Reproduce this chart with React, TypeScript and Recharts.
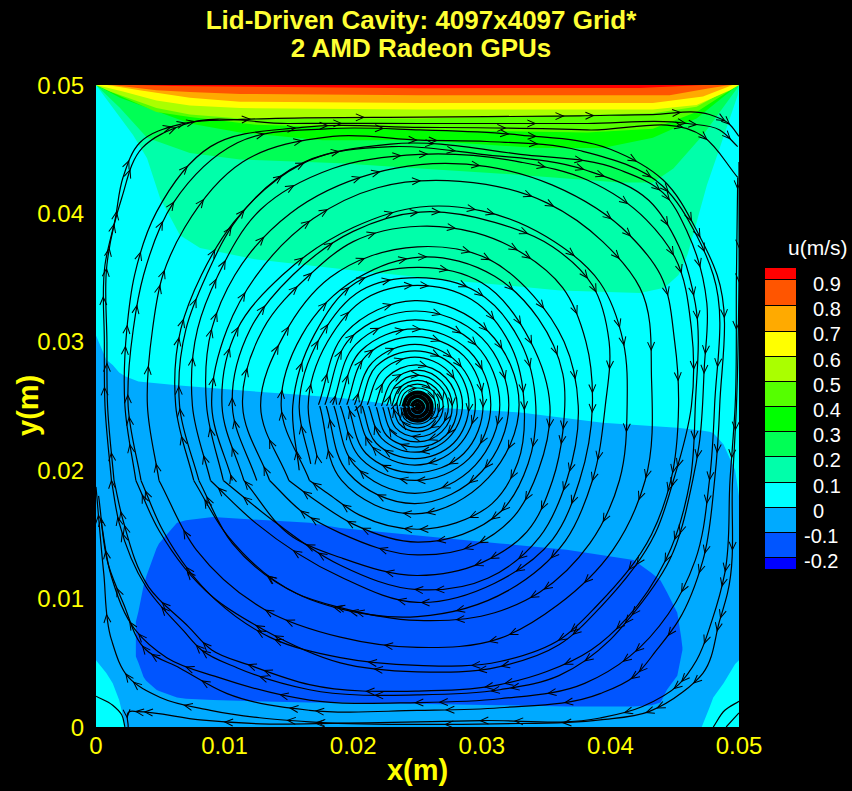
import React from 'react';
import { ComposedChart, Area, Line, XAxis, YAxis, Label } from 'recharts';

type P = [number, number];
const FONT = '"Liberation Sans", Arial, sans-serif';

const xTicks = [0, 0.01, 0.02, 0.03, 0.04, 0.05];
const yTicks = [0, 0.01, 0.02, 0.03, 0.04, 0.05];
const legendColors = ['#ff0000', '#ff5500', '#ffaa00', '#ffff00', '#aaff00', '#55ff00', '#00ff00', '#00ff55', '#00ffaa', '#00ffff', '#00aaff', '#0055ff', '#0000ff'];
const legendLabels = ['0.9', '0.8', '0.7', '0.6', '0.5', '0.4', '0.3', '0.2', '0.1', '0', '-0.1', '-0.2'];

// contour bands, millimetres: [x, lower edge, upper edge]
const bandZero: [number, number, number][] = [[0, 5.2, 30.5], [0.8, 4.2, 28.6], [1.3, 3.4, 28.2], [1.8, 2.1, 27.6], [2.3, 0, 27.3], [3.3, 0, 26.9], [6.5, 0, 26.6], [11.4, 0, 26.2], [15.6, 0, 25.9], [19.2, 0, 25.6], [24, 0, 25], [33, 0, 24.5], [39.4, 0, 23.7], [45.2, 0, 23.3], [47.1, 0, 23.1], [47.7, 1.5, 23], [48, 2.3, 22.9], [48.8, 3.4, 22], [49.7, 4.9, 20], [50, 5.2, 18]];
const bandMinus: [number, number, number][] = [[3.1, 5.5, 8.2], [3.3, 5, 9], [3.7, 3.9, 11], [3.9, 3.6, 11.7], [4.7, 2.9, 13.9], [4.9, 2.8, 14.3], [6.3, 2.3, 15.9], [7, 2.2, 16.1], [9.1, 2.1, 16.35], [16.6, 1.9, 15.9], [19, 1.9, 15.5], [31.4, 1.7, 14.3], [36.6, 1.6, 13.8], [41.8, 1.6, 13], [43.2, 1.7, 12], [43.9, 1.9, 11.4], [44.4, 2.9, 10.5], [45.2, 4, 8.9], [45.5, 5.5, 7], [45.6, 6, 6.2]];
const edge01: P[] = [[0, 50], [2.88, 46.1], [3.97, 44.3], [4.98, 41.2], [6.53, 38.3], [8.09, 37.3], [12.5, 36.4], [19.75, 35.6], [27.5, 34.8], [36.1, 34], [42.3, 33.8], [44.2, 34.2], [45.3, 35.2], [46, 36.8], [46.7, 39.3], [47.5, 42.2], [48.5, 45.1], [49.9, 49.2], [50, 50]];
const edge02: P[] = [[0, 50], [1.87, 48.2], [3.97, 45.9], [7.3, 44.7], [11.2, 44.2], [19, 43.9], [25.2, 43.5], [33, 43], [40.7, 42.4], [43.3, 42.4], [44.9, 43.5], [47.2, 46.1], [49.9, 49.8], [50, 50]];
const edge03: P[] = [[0, 50], [1.87, 49], [7.3, 47], [11.2, 46.3], [17.6, 45.7], [25.2, 45.7], [34.3, 45.1], [39.4, 45.1], [43.3, 45.9], [46.7, 47.4], [49.8, 49.9], [50, 50]];
const edge04: P[] = [[0, 50], [1.3, 49.4], [4.7, 47.9], [7.3, 47.5], [12.5, 46.9], [25.2, 46.5], [38.2, 46.3], [43.3, 46.6], [46.7, 47.9], [49.8, 49.9], [50, 50]];
const edge05: P[] = [[0, 50], [1.1, 49.5], [4.7, 48.2], [7.3, 47.7], [11.2, 47.4], [25.2, 47.4], [43.3, 47.8], [46.7, 48.3], [49.8, 50], [50, 50]];
const edge06: P[] = [[0, 50], [2.1, 49.5], [4.7, 48.8], [7.3, 48.4], [11.2, 48.2], [25.2, 48.1], [43.3, 48.1], [46.7, 48.45], [49.3, 49.6], [50, 50]];
const edge07: P[] = [[0.85, 50], [3.4, 49.6], [7.3, 49], [11.2, 48.7], [25.2, 48.6], [43.3, 48.6], [47.2, 49.1], [49.5, 50]];
const edge08: P[] = [[1.3, 50], [4.7, 49.6], [7.3, 49.45], [11.2, 49.3], [25.2, 49.2], [44.6, 49.2], [47.7, 49.75], [49.3, 50]];
const edge09: P[] = [[2.9, 50], [6, 49.92], [25.2, 49.75], [42.3, 49.77], [47.2, 50]];

// streamlines, millimetres, following the flow
const streamA: P[] = [[1.2, 19.2], [0.7, 25], [0.65, 30], [0.7, 36], [1.5, 39.6], [2.1, 42.8], [3.4, 45.5], [6.8, 47], [11, 47.3], [14, 47.4], [25.2, 47.5], [37.6, 47.6], [43.3, 47.7], [47.7, 47.7], [49.2, 47], [50, 46]];
const streamB: P[] = [[1.4, 19.2], [0.9, 25], [0.85, 30], [0.85, 36], [2, 41.2], [3.6, 45.1], [6.8, 46.9], [15, 47], [25.2, 47], [38.2, 47], [46, 47], [48.5, 46.5], [49.9, 45.2]];
const lowerA: P[] = [[50, 44], [50, 35], [49.8, 25], [49.5, 19.2], [49.1, 10.4], [48.5, 8.3], [47.2, 4.2], [45.6, 2.7], [43, 1.2], [39.2, 0.55], [31, 0.25], [25, 0.2], [16.6, 0.4], [8.9, 1.3], [5, 2.3], [2.5, 3.9], [1.2, 6.8], [0.6, 12], [0, 18.7]];
const lowerC: P[] = [[49.9, 42.8], [49.8, 35], [49.7, 25], [49.3, 19.2], [48.9, 12], [47.9, 8.3], [46.7, 5.2], [45.3, 3.3], [42.5, 1.6], [39.2, 0.7], [30, 0.5], [19, 0.3], [12.8, 0.25], [8.1, 0.55], [3.2, 1.2], [2.6, 1.2], [2.5, 0]];
const eddyLeft: P[] = [[0, 2.4], [1.3, 1.7], [2, 0.95], [2.25, 0]];
const eddyRightA: P[] = [[48, 0], [48.9, 1.3], [50, 2]];
const eddyRightB: P[] = [[49, 0], [50, 1.1]];
const ring01: P[] = [[3.1, 19.2], [2.25, 25], [2.4, 31], [3, 35.2], [4.7, 40.1], [8.9, 45.2], [16, 46.7], [25.2, 46.7], [38.2, 46.5], [47.2, 46], [49.9, 42.8]];
const ring02: P[] = [[3.5, 19.2], [2.5, 25], [2.9, 31], [3.7, 35.2], [6, 40.8], [11, 45.5], [18.2, 46.6], [25.2, 46.5], [33, 46.1], [40, 45], [44.1, 42.6], [46.9, 38.3], [48.3, 35.2], [48.5, 25], [48.1, 19.2], [47.2, 13], [45.3, 8.3], [43.6, 6], [41.8, 3.9], [39.2, 2.6], [31.4, 1.5], [25, 1.3], [16.6, 1.3], [10.2, 2.6], [6.5, 4.6], [3.9, 6], [2.1, 9.7], [1, 12.5], [0.2, 18]];
const ring03: P[] = [[4.9, 19.2], [4, 25], [4.4, 31], [5.2, 35.2], [6.9, 38.9], [11.4, 44], [18.4, 46], [25.2, 45.7], [30.4, 45.6], [37.6, 44.9], [44.1, 42.1], [46.7, 38.3], [48, 35.2], [48.1, 25], [47.7, 19.2], [46.6, 13], [44.5, 8.8], [41.5, 5.5], [38, 3.4], [31.4, 2.2], [25, 1.9], [16.6, 2.1], [9.4, 3.9], [5.5, 5.4], [3.1, 7.5], [1.2, 11.7], [0.4, 16]];
const ring04: P[] = [[7.6, 19.2], [6.2, 25], [6.6, 31], [8.2, 35.2], [10.7, 39.3], [15.9, 43.8], [22.9, 45.4], [33, 44.6], [40.7, 43.4], [44.1, 41.6], [46, 38.5], [47.5, 33], [47.3, 28], [46.9, 22], [46.4, 19.2], [44.6, 13], [41.5, 8.5], [40, 6.8], [36, 4], [31.4, 2.9], [25, 2.5], [16.6, 2.9], [11, 4.6], [8.2, 6], [6.8, 7.5], [3.9, 10.9], [1.8, 15.9], [1.2, 19.2]];
const ring04b: P[] = [[8, 19.2], [6.5, 25], [7, 31], [8.6, 35.2], [11, 39.6], [16.2, 44], [23, 45.2], [30, 44.6], [38, 43.4], [43, 41], [45.3, 37.5], [46.6, 33], [46.6, 25], [46.2, 19.2], [44.3, 13], [41.3, 8.5], [38.5, 6], [35, 4.3], [31.4, 3.3], [25, 2.8], [16.6, 3.3], [12, 4.8], [9, 6], [7.2, 7.8], [4.1, 10.9], [2.1, 16.1], [1.4, 19.2]];
const ring05: P[] = [[8.9, 19.2], [7.5, 25], [7.9, 31], [9.5, 35.2], [12.8, 40.3], [18.4, 43.5], [25.2, 44.6], [33, 44], [38.2, 42.6], [42.8, 39.5], [45, 36.6], [46.3, 31], [46.3, 25], [44.9, 19.2], [43.5, 15.1], [39.2, 9.3], [36, 6.4], [31.4, 4.7], [25, 4.3], [19, 5], [13, 7.6], [9.1, 10.1], [4.9, 15.3], [3.1, 19.2]];
const ring06: P[] = [[9.9, 19.2], [8.6, 25], [9, 31], [10.8, 35.2], [15.1, 40], [21.5, 43.1], [25.2, 43.8], [35.5, 42.2], [41.5, 38.3], [43.9, 35.2], [45, 30], [45.3, 25], [44.7, 19.2], [43.2, 15], [39, 9.5], [36.2, 6.9], [31.4, 5.1], [25, 4.8], [19, 5.4], [13.5, 7], [9.3, 9.9], [5.2, 15.3], [3.5, 19.2]];
const ring07: P[] = [[10.6, 19.2], [9, 25], [10.2, 31], [12.5, 35.2], [16.9, 39.6], [21.9, 42], [28.3, 42.5], [35.1, 40.8], [39.4, 37.8], [42.3, 34.2], [43.2, 27], [42.7, 19.2], [40.2, 13.8], [35.9, 9.5], [31.4, 6.9], [25, 6.2], [19, 7], [13.2, 9.1], [7.8, 13.8], [4.9, 19.2]];
const ring08: P[] = [[11.5, 19.2], [9.8, 25], [11, 31], [14.5, 35.2], [20, 38.9], [25.2, 40.5], [30, 40.2], [35, 38.2], [39.2, 34.6], [41, 30], [41.3, 25], [40.7, 19.2], [38.4, 14.3], [34.5, 10.5], [31, 8.9], [25, 8.3], [19, 9.3], [15.6, 10.4], [10.3, 14.8], [7.6, 19.2]];
const ring09: P[] = [[12.5, 19.2], [10.6, 25], [12, 31], [15.3, 35.2], [20, 38.6], [25.2, 40.1], [31, 39.3], [35.5, 37.4], [38.6, 34.4], [39.9, 30], [39.6, 25], [38.6, 19.2], [36.5, 14.5], [32, 10.6], [25, 8.6], [19, 9.2], [16, 10.2], [10.6, 14.3], [8, 19.2]];
const ring10: P[] = [[13.5, 19.2], [11.4, 25], [13, 31], [16.6, 35.2], [20, 37.8], [25.2, 39], [29.5, 38.5], [33, 37], [36.3, 34.2], [38.1, 30], [38.6, 25], [37.6, 19.2], [35.5, 14.6], [31, 11.2], [25, 9.7], [19, 11.7], [12.4, 15.9], [8.9, 19.2]];
const ring11: P[] = [[15, 19.2], [12.8, 25], [14.6, 30.5], [18.2, 35], [25, 37.4], [30.6, 36.4], [34, 33.6], [36.4, 30], [37.5, 25], [36.6, 19.2], [34.5, 14.8], [30.5, 11.6], [25, 10.7], [19, 12.6], [14, 15.9], [9.9, 19.2]];
const ring12: P[] = [[16.6, 19.2], [14.4, 25], [16, 30.5], [20.4, 35], [25.2, 36.6], [31, 35.1], [34.4, 31.8], [36.3, 27.5], [36.3, 23], [35.5, 19.2], [33.5, 15.2], [30, 12.8], [25, 11.8], [19, 13.2], [15.3, 14.8], [11.5, 19.2]];
const ring13: P[] = [[15.8, 20], [15.3, 25], [17, 30.6], [20.2, 34.6], [25, 35.8], [30, 34.6], [33.8, 30], [35.3, 25], [34.4, 20], [32.5, 16.4], [29.5, 14.2], [25, 13.4], [19, 15.1], [16.1, 16.7], [13.5, 19.2]];
const ring14: P[] = [[16.7, 20.5], [15.8, 25], [17.4, 30.3], [20.6, 34], [25, 35], [29.6, 33.9], [33, 30], [34.2, 25], [33.6, 20.5], [31.5, 16.8], [28.5, 15], [25, 14.4], [20, 15.8], [17, 17.7], [15, 19.2]];
const ring14b: P[] = [[17.2, 21], [16.5, 25], [18, 30], [21, 33.4], [25, 34.4], [29.2, 33.3], [32.3, 29.6], [33.3, 25], [32.8, 20.6], [30.8, 17.4], [28, 15.9], [25, 15.4], [20.5, 16.5], [18, 18.2], [16.6, 19.2]];
const ring15: P[] = [[17.3, 25.1], [19.4, 30.7], [24.8, 33.2], [30.5, 30.8], [32.9, 25.1], [30.5, 19.4], [24.8, 16.6], [19.1, 19.2], [17.4, 25]];
const ring16: P[] = [[17.8, 25.1], [19.8, 30.3], [24.8, 32.4], [30, 30.3], [32.1, 25.1], [30, 19.9], [24.8, 17.4], [19.6, 19.8], [17.9, 25]];
const ring17: P[] = [[18.4, 25.1], [20.2, 29.8], [24.8, 31.7], [29.5, 29.8], [31.4, 25.1], [29.5, 20.4], [24.8, 18.2], [20.1, 20.4], [18.5, 25]];
const ring18: P[] = [[18.9, 25.1], [20.6, 29.3], [24.8, 31], [29, 29.3], [30.7, 25.1], [29, 20.9], [24.8, 19.2], [20.6, 20.9], [19, 25]];
const ring19: P[] = [[19.5, 25.1], [21, 28.9], [24.8, 30.4], [28.6, 28.9], [30.1, 25.1], [28.6, 21.3], [24.8, 19.8], [21, 21.3], [19.6, 25]];
const ring20: P[] = [[20.1, 25.1], [21.5, 28.4], [24.8, 29.8], [28.1, 28.4], [29.5, 25.1], [28.1, 21.8], [24.8, 20.4], [21.5, 21.8], [20.2, 25]];
const ring21: P[] = [[20.6, 25.1], [21.8, 28.1], [24.8, 29.3], [27.8, 28.1], [29, 25.1], [27.8, 22.1], [24.8, 20.9], [21.8, 22.1], [20.7, 25]];
const ring22: P[] = [[21.1, 25.1], [22.2, 27.7], [24.8, 28.8], [27.4, 27.7], [28.5, 25.1], [27.4, 22.5], [24.8, 21.4], [22.2, 22.5], [21.2, 25]];
const ring23: P[] = [[21.7, 25], [22.6, 27.2], [24.9, 28.2], [27.2, 27.2], [28.1, 25], [27.2, 22.7], [24.9, 21.8], [22.6, 22.7], [21.8, 24.9]];
const ring24: P[] = [[22.2, 25], [23, 26.9], [25, 27.8], [26.9, 26.9], [27.7, 25], [26.9, 23], [25, 22.2], [23, 23], [22.3, 24.9]];
const ring25: P[] = [[22.6, 25], [23.3, 26.6], [25, 27.4], [26.7, 26.6], [27.4, 25], [26.7, 23.3], [25, 22.6], [23.3, 23.3], [22.7, 24.9]];
const ring26: P[] = [[23, 25], [23.6, 26.4], [25, 27], [26.4, 26.4], [27, 25], [26.4, 23.6], [25, 23], [23.6, 23.6], [23.1, 24.9]];
const ring27: P[] = [[23.3, 25], [23.8, 26.2], [25, 26.7], [26.2, 26.2], [26.7, 25], [26.2, 23.8], [25, 23.3], [23.8, 23.8], [23.4, 24.9]];
const ring28: P[] = [[23.6, 25], [24, 26], [25, 26.4], [26, 26], [26.4, 25], [26, 24], [25, 23.6], [24, 24], [23.7, 24.9]];
const core1: P[] = [[23.9, 24.95], [24.2, 25.7], [25, 26.05], [25.8, 25.7], [26.1, 24.95], [25.8, 24.2], [25, 23.85], [24.2, 24.2], [23.95, 24.9]];
const core2: P[] = [[24.2, 24.95], [24.45, 25.5], [25, 25.75], [25.55, 25.5], [25.8, 24.95], [25.55, 24.4], [25, 24.15], [24.45, 24.4], [24.25, 24.9]];
const core3: P[] = [[24.55, 24.95], [24.7, 25.25], [25, 25.4], [25.3, 25.25], [25.45, 24.95], [25.3, 24.65], [25, 24.5], [24.7, 24.65], [24.6, 24.9]];
const core4: P[] = [[24.85, 24.95], [24.9, 25.05], [25, 25.1], [25.1, 25.05], [25.15, 24.95], [25.1, 24.85], [25, 24.8], [24.9, 24.85], [24.85, 24.95]];

const bandEdges: { color: string; edge: P[] }[] = [
  { color: legendColors[8], edge: edge01 }, { color: legendColors[7], edge: edge02 }, { color: legendColors[6], edge: edge03 },
  { color: legendColors[5], edge: edge04 }, { color: legendColors[4], edge: edge05 }, { color: legendColors[3], edge: edge06 },
  { color: legendColors[2], edge: edge07 }, { color: legendColors[1], edge: edge08 }, { color: legendColors[0], edge: edge09 },
];
const arrowed: P[][] = [streamA, streamB, lowerA, lowerC, ring01, ring02, ring03, ring04, ring04b, ring05, ring06, ring07, ring08, ring09, ring10, ring11, ring12, ring13, ring14, ring14b, ring15, ring16, ring17, ring18, ring19, ring20];
const everyOther: P[][] = [ring21, ring22, ring23, ring24, ring25, ring26, ring27, ring28];
const plain: P[][] = [eddyLeft, eddyRightA, eddyRightB];
const core: P[][] = [core1, core2, core3, core4];

// tangent at a point, weighted so that the nearer neighbour counts more
const tangentAt = (pts: number[][], i: number): number[] => {
  const a = pts[Math.max(0, i - 1)], p = pts[i], b = pts[Math.min(pts.length - 1, i + 1)];
  const d1 = Math.hypot(p[0] - a[0], p[1] - a[1]), d2 = Math.hypot(b[0] - p[0], b[1] - p[1]);
  let dx: number, dy: number;
  if (d1 === 0) { dx = b[0] - p[0]; dy = b[1] - p[1]; }
  else if (d2 === 0) { dx = p[0] - a[0]; dy = p[1] - a[1]; }
  else {
    dx = ((p[0] - a[0]) * d2) / d1 + ((b[0] - p[0]) * d1) / d2;
    dy = ((p[1] - a[1]) * d2) / d1 + ((b[1] - p[1]) * d1) / d2;
  }
  const n = Math.hypot(dx, dy) || 1;
  return [dx / n, dy / n];
};

// each row of a streamline also says where along the next stretch its arrowhead sits,
// so the heads do not line up along rays through the centre
const toRows = (pts: P[], stride: number, seed: number) => pts.map((p, i) => {
  const last = i >= pts.length - 1;
  const q = last ? p : pts[i + 1];
  const d = Math.hypot(q[0] - p[0], q[1] - p[1]) / 3;
  const t0 = tangentAt(pts, i), t1 = tangentAt(pts, Math.min(pts.length - 1, i + 1));
  const f = (seed * 0.37 + i * 0.29) % 1;
  const u = 1 - f;
  const c1: P = [p[0] + t0[0] * d, p[1] + t0[1] * d];
  const c2: P = [q[0] - t1[0] * d, q[1] - t1[1] * d];
  const ax = u * u * u * p[0] + 3 * u * u * f * c1[0] + 3 * u * f * f * c2[0] + f * f * f * q[0];
  const ay = u * u * u * p[1] + 3 * u * u * f * c1[1] + 3 * u * f * f * c2[1] + f * f * f * q[1];
  const vx = 3 * u * u * (c1[0] - p[0]) + 6 * u * f * (c2[0] - c1[0]) + 3 * f * f * (q[0] - c2[0]);
  const vy = 3 * u * u * (c1[1] - p[1]) + 6 * u * f * (c2[1] - c1[1]) + 3 * f * f * (q[1] - c2[1]);
  return { x: p[0] / 1000, y: p[1] / 1000, ox: ax - p[0], oy: ay - p[1], vx, vy, arrow: stride > 0 && !last && (i + seed) % stride === 0 };
});

// smooth curve through the points that does not overshoot on uneven spacing
const smooth = (ctx: any) => {
  let pts: number[][] = [];
  return {
    areaStart() {}, areaEnd() {},
    lineStart() { pts = []; },
    point(x: number, y: number) { pts.push([+x, +y]); },
    lineEnd() {
      if (!pts.length) return;
      ctx.moveTo(pts[0][0], pts[0][1]);
      for (let i = 0; i < pts.length - 1; i++) {
        const p = pts[i], q = pts[i + 1], d = Math.hypot(q[0] - p[0], q[1] - p[1]) / 3;
        const t0 = tangentAt(pts, i), t1 = tangentAt(pts, i + 1);
        ctx.bezierCurveTo(p[0] + t0[0] * d, p[1] + t0[1] * d, q[0] - t1[0] * d, q[1] - t1[1] * d, q[0], q[1]);
      }
    },
  };
};

const MM_PX = 12.85;
const ArrowDot = (props: any) => {
  const { cx, cy, payload, index } = props;
  if (!payload || !payload.arrow || cx == null || cy == null) return <g key={index} />;
  const deg = (Math.atan2(-payload.vy, payload.vx) * 180) / Math.PI;
  return <path key={index} transform={`translate(${cx + payload.ox * MM_PX},${cy - payload.oy * MM_PX}) rotate(${deg})`} d="M-8,-3.5L0,0L-8,3.5" fill="none" stroke="#000" strokeWidth={1} />;
};

const legendHeights = [12.3, 25.7, 25.7, 25, 25.3, 25.3, 25, 25, 25.4, 25, 25.3, 25.3, 12];

const ChartLegend = () => {
  let top = 268;
  const cells = legendColors.map((c, i) => {
    const el = <div key={c} style={{ position: 'absolute', left: 765, top, width: 31, height: legendHeights[i] - 1, background: c, borderBottom: '1px solid #000' }} />;
    top += legendHeights[i];
    return el;
  });
  return (
    <>
      <div style={{ position: 'absolute', left: 788, top: 236, color: '#fff', fontFamily: FONT, fontSize: 21, lineHeight: '24px' }}>u(m/s)</div>
      {cells}
      {legendLabels.map((t, i) => (
        <div key={t} style={{ position: 'absolute', left: t.startsWith('-') ? 804 : 813, top: 273 + i * 25.2, color: '#fff', fontFamily: FONT, fontSize: 20, lineHeight: '23px' }}>{t}</div>
      ))}
    </>
  );
};

export default function App() {
  return (
    <div style={{ position: 'fixed', left: 0, top: 0, width: 852, height: 791, background: '#000', overflow: 'hidden' }}>
      <div style={{ position: 'absolute', left: 0, width: 842, top: 6, textAlign: 'center', color: '#ffff33', fontFamily: FONT, fontWeight: 700, fontSize: 26, lineHeight: '28px' }}>
        Lid-Driven Cavity: 4097x4097 Grid*<br />2 AMD Radeon GPUs
      </div>
      <ComposedChart width={852} height={791} margin={{ top: 85, right: 113, bottom: 24, left: 36 }} style={{ position: 'absolute', left: 0, top: 0 }}>
        <XAxis type="number" dataKey="x" domain={[0, 0.05]} ticks={xTicks} allowDataOverflow height={40} interval={0} axisLine={false} tickLine={false} tickMargin={4}
          tick={{ fill: '#ffff00', fontSize: 24, fontFamily: FONT }} tickFormatter={(v: number) => String(v)}>
          <Label value="x(m)" position="insideBottom" offset={-13} fill="#ffff00" fontSize={29} fontWeight={700} fontFamily={FONT} />
        </XAxis>
        <YAxis type="number" domain={[0, 0.05]} ticks={yTicks} allowDataOverflow width={60} interval={0} axisLine={false} tickLine={false} tickMargin={6}
          tick={{ fill: '#ffff00', fontSize: 24, fontFamily: FONT }} tickFormatter={(v: number) => String(v)}>
          <Label value="y(m)" angle={-90} position="insideLeft" offset={-8} dy={30} fill="#ffff00" fontSize={29} fontWeight={700} fontFamily={FONT} />
        </YAxis>
        <Area data={[{ x: 0, r: [0, 0.05] }, { x: 0.05, r: [0, 0.05] }]} dataKey="r" stroke="none" fill="#00ffff" fillOpacity={1} isAnimationActive={false} dot={false} activeDot={false} />
        <Area data={bandZero.map(b => ({ x: b[0] / 1000, r: [b[1] / 1000, b[2] / 1000] }))} dataKey="r" stroke="none" fill={legendColors[10]} fillOpacity={1} isAnimationActive={false} dot={false} activeDot={false} />
        <Area data={bandMinus.map(b => ({ x: b[0] / 1000, r: [b[1] / 1000, b[2] / 1000] }))} dataKey="r" stroke="none" fill={legendColors[11]} fillOpacity={1} isAnimationActive={false} dot={false} activeDot={false} />
        {bandEdges.map((b, i) => (
          <Area key={i} data={b.edge.map(e => ({ x: e[0] / 1000, r: [e[1] / 1000, 0.05] }))} dataKey="r" stroke="none" fill={b.color} fillOpacity={1} isAnimationActive={false} dot={false} activeDot={false} />
        ))}
        {arrowed.map((pts, i) => (
          <Line key={'a' + i} data={toRows(pts, 1, i)} dataKey="y" type={smooth as any} stroke="#000" strokeWidth={1.2} dot={ArrowDot} activeDot={false} legendType="none" isAnimationActive={false} />
        ))}
        {everyOther.map((pts, i) => (
          <Line key={'b' + i} data={toRows(pts, 2, i)} dataKey="y" type={smooth as any} stroke="#000" strokeWidth={1.2} dot={ArrowDot} activeDot={false} legendType="none" isAnimationActive={false} />
        ))}
        {plain.map((pts, i) => (
          <Line key={'c' + i} data={toRows(pts, 0, i)} dataKey="y" type={smooth as any} stroke="#000" strokeWidth={1.2} dot={false} activeDot={false} legendType="none" isAnimationActive={false} />
        ))}
        {core.map((pts, i) => (
          <Line key={'d' + i} data={toRows(pts, 0, i)} dataKey="y" type={smooth as any} stroke="#000" strokeWidth={4} dot={false} activeDot={false} legendType="none" isAnimationActive={false} />
        ))}
      </ComposedChart>
      <ChartLegend />
    </div>
  );
}
